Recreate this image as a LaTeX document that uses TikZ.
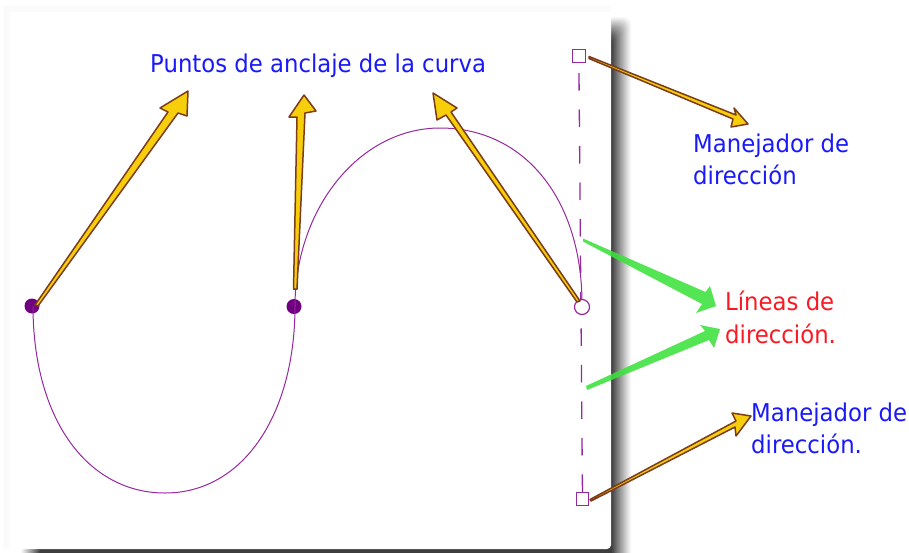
\documentclass[tikz,border=0pt]{standalone}
\usepackage{fontspec}
\setmainfont{DejaVu Sans}[FakeStretch=0.93]
\definecolor{curvec}{RGB}{150,40,160}
\definecolor{dotc}{RGB}{112,0,128}
\definecolor{goldf}{RGB}{247,206,10}
\definecolor{goldd}{RGB}{125,60,25}
\definecolor{greenf}{RGB}{60,225,60}
\definecolor{labblue}{RGB}{25,25,250}
\definecolor{labred}{RGB}{250,25,35}
\tikzset{
  x=1pt,y=-1pt,
  curveline/.style={draw=curvec,line width=1pt},
  goldarrow/.style={fill=goldf,draw=goldd,line width=1.5pt,line join=round},
  greenarrow/.style={fill=greenf,fill opacity=0.88},
  handle/.style={draw=curvec,line width=1.2pt,minimum size=12.5pt,inner sep=0pt,rectangle},
  anchorpt/.style={fill=dotc,circle,minimum size=15pt,inner sep=0pt},
  lab/.style={anchor=base west,inner sep=0pt,font=\fontsize{24.5}{29}\selectfont}
}
\begin{document}
\begin{tikzpicture}
\useasboundingbox (0,0) rectangle (909,552);
\clip (0,0) rectangle (909,552);
% shadow
\foreach \i in {0,...,20}{
  \pgfmathsetmacro\g{100-76*(\i/20)^1.1}
  \pgfmathsetmacro\d{20-\i}
  \fill[fill=white!\g!black,rounded corners=8pt]
     (40-\d,36-\d) rectangle (612+\d,570+\d);
}
% faint surround and card
\fill[black!1.5] (3,5) -- (611,5) -- (611,12) -- (10,12) -- (10,549) -- (3,549) -- cycle;
\fill[white,rounded corners=4pt] (10,12) rectangle (611,549);
% anchor points
\coordinate (a1) at (32,306);
\coordinate (a2) at (295,306);
\coordinate (a3) at (582,307);
\node[anchorpt] (p1) at (a1) {};
\node[anchorpt] (p2) at (294,306.5) {};
% curve
\draw[curveline] (33,306) .. controls (33,420) and (88,493) .. (165,493)
   .. controls (243,493) and (295,415) .. (a2)
   .. controls (295,208) and (360,128) .. (440,128)
   .. controls (525,128) and (583,200) .. (a3);
% direction line
\coordinate (hTop) at (579,56);
\coordinate (hBot) at (582.5,499);
\draw[curveline,line width=1.3pt,dash pattern=on 17.5pt off 19pt] (579,73) -- (hBot);
% handles
\node[handle] (h1) at (hTop) {};
\node[handle] (h2) at (hBot) {};
\node[circle,draw=curvec,fill=white,line width=1.2pt,minimum size=15pt,inner sep=0pt] (p3) at (a3) {};
% gold arrows
\draw[goldarrow] (35,305) -- (168,112) -- (160,108) -- (188,91) -- (187,116) -- (178,113) -- (38,306) -- cycle;
\draw[goldarrow] (293.5,289) -- (297,117) -- (289,117) -- (304,95) -- (316,111) -- (305,113) -- (297,289) -- cycle;
\draw[goldarrow] (577,302) -- (446,115) -- (437,120) -- (433,93) -- (457,108) -- (451,112) -- (580,301) -- cycle;
\draw[goldarrow] (589,56.5) -- (736,115) -- (734,108) -- (748,124) -- (731,127) -- (733,119) -- (589,58.5) -- cycle;
\draw[goldarrow] (590,499.5) -- (736,421) -- (732,413) -- (751,416) -- (736,436) -- (735,427) -- (591,501) -- cycle;
% green arrows
\fill[greenarrow] (583,238.5) -- (705.5,292) -- (710,286) -- (716,306) -- (696,313) -- (702,304) -- (583,241.5) -- cycle;
\fill[greenarrow] (586,386) -- (705,331) -- (700,325) -- (720,329) -- (714,348) -- (709,340) -- (587,390) -- cycle;
% labels
\node[lab,text=labblue] (t1) at (150,72) {Puntos de anclaje de la curva};
\node[lab,text=labblue] (t2) at (693,152) {Manejador de};
\node[lab,text=labblue] (t3) at (693,184) {dirección};
\node[lab,text=labred] (t4) at (725,310) {Líneas de};
\node[lab,text=labred] (t5) at (725,343) {dirección.};
\node[lab,text=labblue] (t6) at (751,421) {Manejador de};
\node[lab,text=labblue] (t7) at (751,453) {dirección.};
\end{tikzpicture}
\end{document}
